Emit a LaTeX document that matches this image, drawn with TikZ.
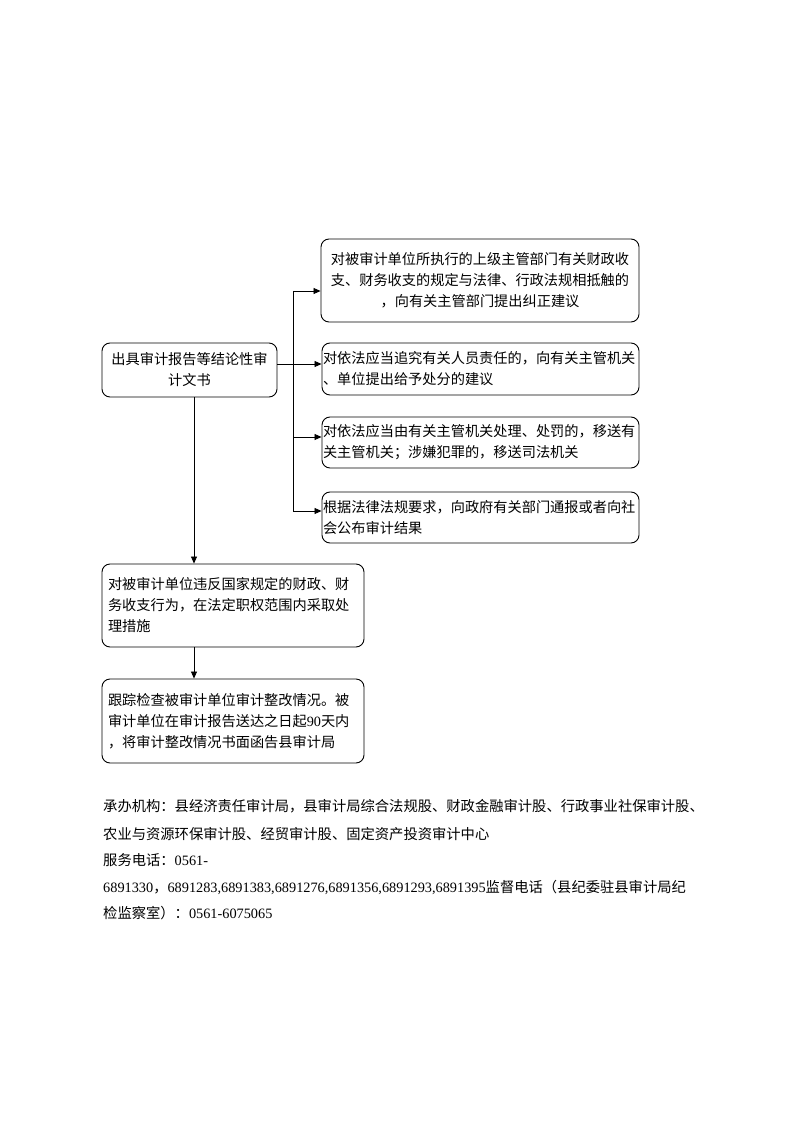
\documentclass[tikz,border=0pt]{standalone}
\usepackage{fontspec}
\setmainfont{Noto Sans CJK SC}
\newfontfamily\lat{Liberation Serif}
\usetikzlibrary{arrows.meta}
\tikzset{
  box/.style={draw, line width=0.9pt, rounded corners=8pt, inner ysep=0pt,
    font=\fontsize{14.2}{21}\selectfont},
  conn/.style={line width=0.8pt},
  arr/.style={conn, -{Triangle[length=7pt,width=6pt]}},
  foot/.style={anchor=west, inner sep=0pt, font=\fontsize{14.3}{17}\selectfont}
}
\begin{document}
\begin{tikzpicture}[x=1pt,y=-1pt]
\useasboundingbox (0,0) rectangle (800,1131);
\fill[white] (0,0) rectangle (800,1131);

\node[box, minimum width=175pt, minimum height=54pt, text width=173pt, inner xsep=1pt, align=center] (A) at (189.5,370) {出具审计报告等结论性审\\计文书};

\node[box, minimum width=318pt, minimum height=83pt, text width=316pt, inner xsep=1pt, align=center] (b1) at (480,280.5) {对被审计单位所执行的上级主管部门有关财政收\\支、财务收支的规定与法律、行政法规相抵触的\\，向有关主管部门提出纠正建议};

\node[box, minimum width=317pt, minimum height=52pt, text width=315pt, inner xsep=1pt, align=left] (b2) at (480.5,369) {对依法应当追究有关人员责任的，向有关主管机关\\、单位提出给予处分的建议};

\node[box, minimum width=317pt, minimum height=51pt, text width=315pt, inner xsep=1pt, align=left] (b3) at (480.5,442.5) {对依法应当由有关主管机关处理、处罚的，移送有\\关主管机关；涉嫌犯罪的，移送司法机关};

\node[box, minimum width=317pt, minimum height=51pt, text width=315pt, inner xsep=1pt, align=left] (b4) at (480.5,517.5) {根据法律法规要求，向政府有关部门通报或者向社\\会公布审计结果};

\node[box, minimum width=262pt, minimum height=83pt, text width=250pt, inner xsep=6pt, align=left] (B) at (233,605.5) {对被审计单位违反国家规定的财政、财\\务收支行为，在法定职权范围内采取处\\理措施};

\node[box, minimum width=262pt, minimum height=84pt, text width=250pt, inner xsep=6pt, align=left] (C) at (233,721) {跟踪检查被审计单位审计整改情况。被\\审计单位在审计报告送达之日起{\lat 90}天内\\，将审计整改情况书面函告县审计局};

% branch connectors
\coordinate (j0) at (293,364);
\coordinate (j1) at (293,291);
\coordinate (j3) at (293,437);
\coordinate (j4) at (293,511);
\draw[conn] (A.east |- j0) -- (j0);
\draw[conn] (j1) -- (j4);
\draw[arr] (j1) -- (b1.west |- j1);
\draw[arr] (j0) -- (b2.west |- j0);
\draw[arr] (j3) -- (b3.west |- j3);
\draw[arr] (j4) -- (b4.west |- j4);

\coordinate (v0) at (194,0);
\draw[arr] (A.south -| v0) -- (B.north -| v0);
\draw[arr] (B.south -| v0) -- (C.north -| v0);

% footer
\node[foot] (f1) at (103,806) {承办机构：县经济责任审计局，县审计局综合法规股、财政金融审计股、行政事业社保审计股、};
\node[foot] (f2) at (103,834) {农业与资源环保审计股、经贸审计股、固定资产投资审计中心};
\node[foot] (f3) at (103,860) {服务电话：{\lat 0561-}};
\node[foot] (f4) at (103,887) {{\lat 6891330}，{\lat 6891283,6891383,6891276,6891356,6891293,6891395}监督电话（县纪委驻县审计局纪};
\node[foot] (f5) at (103,913) {检监察室）：{\lat 0561-6075065}};
\end{tikzpicture}
\end{document}
